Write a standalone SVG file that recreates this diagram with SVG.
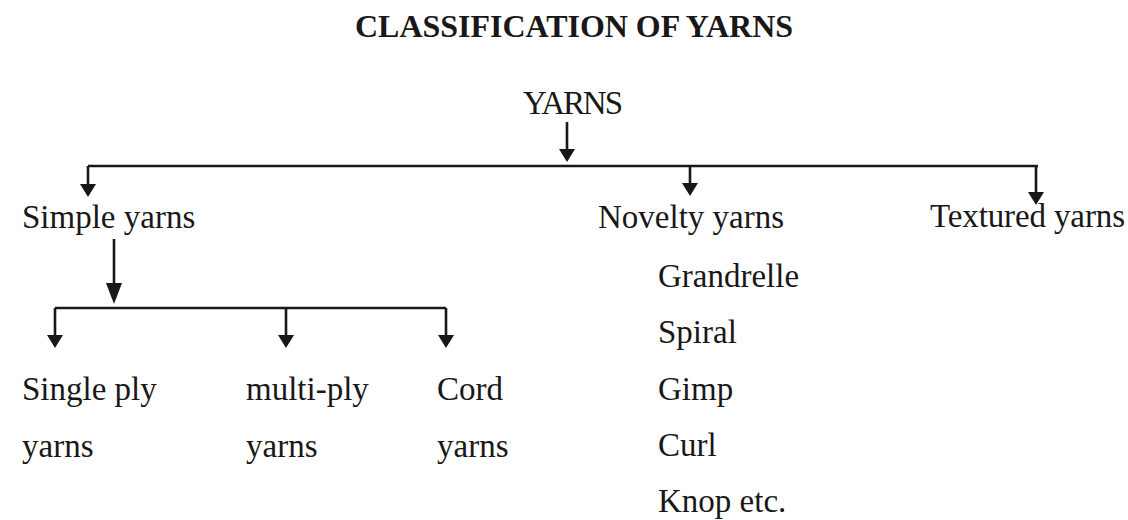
<svg xmlns="http://www.w3.org/2000/svg" width="1128" height="520" viewBox="0 0 1128 520">
<style>
  text { font-family: "Liberation Serif", "Times New Roman", serif; fill: #1a1718; }
  .lbl { font-size: 33px; }
  .title { font-size: 32px; font-weight: bold; }
  .conn { fill: none; stroke: #1a1718; stroke-width: 2.6; }
</style>
<defs>
  <marker id="ah" viewBox="0 -8 13 16" markerWidth="13" markerHeight="16" refX="7" refY="0" orient="auto" markerUnits="userSpaceOnUse">
    <path d="M0,-8 L13,0 L0,8 z" fill="#1a1718"/>
  </marker>
  <marker id="ahL" viewBox="0 -8 21 16" markerWidth="21" markerHeight="16" refX="15" refY="0" orient="auto" markerUnits="userSpaceOnUse">
    <path d="M0,-8 L21,0 L0,8 z" fill="#1a1718"/>
  </marker>
</defs>
<rect width="1128" height="520" fill="#ffffff"/>
<g id="title"><text class="title" x="355" y="37" textLength="438" lengthAdjust="spacingAndGlyphs">CLASSIFICATION OF YARNS</text></g>
<g id="connectors">
  <path class="conn" d="M567,122 V156" marker-end="url(#ah)"/>
  <path class="conn" d="M88,166 H1038"/>
  <path class="conn" d="M88,166 V191" marker-end="url(#ah)"/>
  <path class="conn" d="M690,166 V190" marker-end="url(#ah)"/>
  <path class="conn" d="M1036,166 V199" marker-end="url(#ah)"/>
  <path class="conn" d="M114,239 V298" marker-end="url(#ahL)"/>
  <path class="conn" d="M55,308 H446"/>
  <path class="conn" d="M55,308 V342" marker-end="url(#ah)"/>
  <path class="conn" d="M286,308 V342" marker-end="url(#ah)"/>
  <path class="conn" d="M446,308 V342" marker-end="url(#ah)"/>
</g>
<g id="yarns"><text class="lbl" x="523" y="114" textLength="100" lengthAdjust="spacing">YARNS</text></g>
<g id="simple"><text class="lbl" x="22" y="228">Simple yarns</text></g>
<g id="novelty"><text class="lbl" x="598" y="228">Novelty yarns</text></g>
<g id="textured"><text class="lbl" x="930" y="227" textLength="195" lengthAdjust="spacing">Textured yarns</text></g>
<g id="single">
  <text class="lbl" x="22" y="400">Single ply</text>
  <text class="lbl" x="22" y="457">yarns</text>
</g>
<g id="multi">
  <text class="lbl" x="246" y="400">multi-ply</text>
  <text class="lbl" x="246" y="457">yarns</text>
</g>
<g id="cord">
  <text class="lbl" x="437" y="400">Cord</text>
  <text class="lbl" x="437" y="457">yarns</text>
</g>
<g id="novelty-list">
  <text class="lbl" x="658" y="287">Grandrelle</text>
  <text class="lbl" x="658" y="343">Spiral</text>
  <text class="lbl" x="658" y="400">Gimp</text>
  <text class="lbl" x="658" y="456">Curl</text>
  <text class="lbl" x="658" y="512">Knop etc.</text>
</g>
</svg>
